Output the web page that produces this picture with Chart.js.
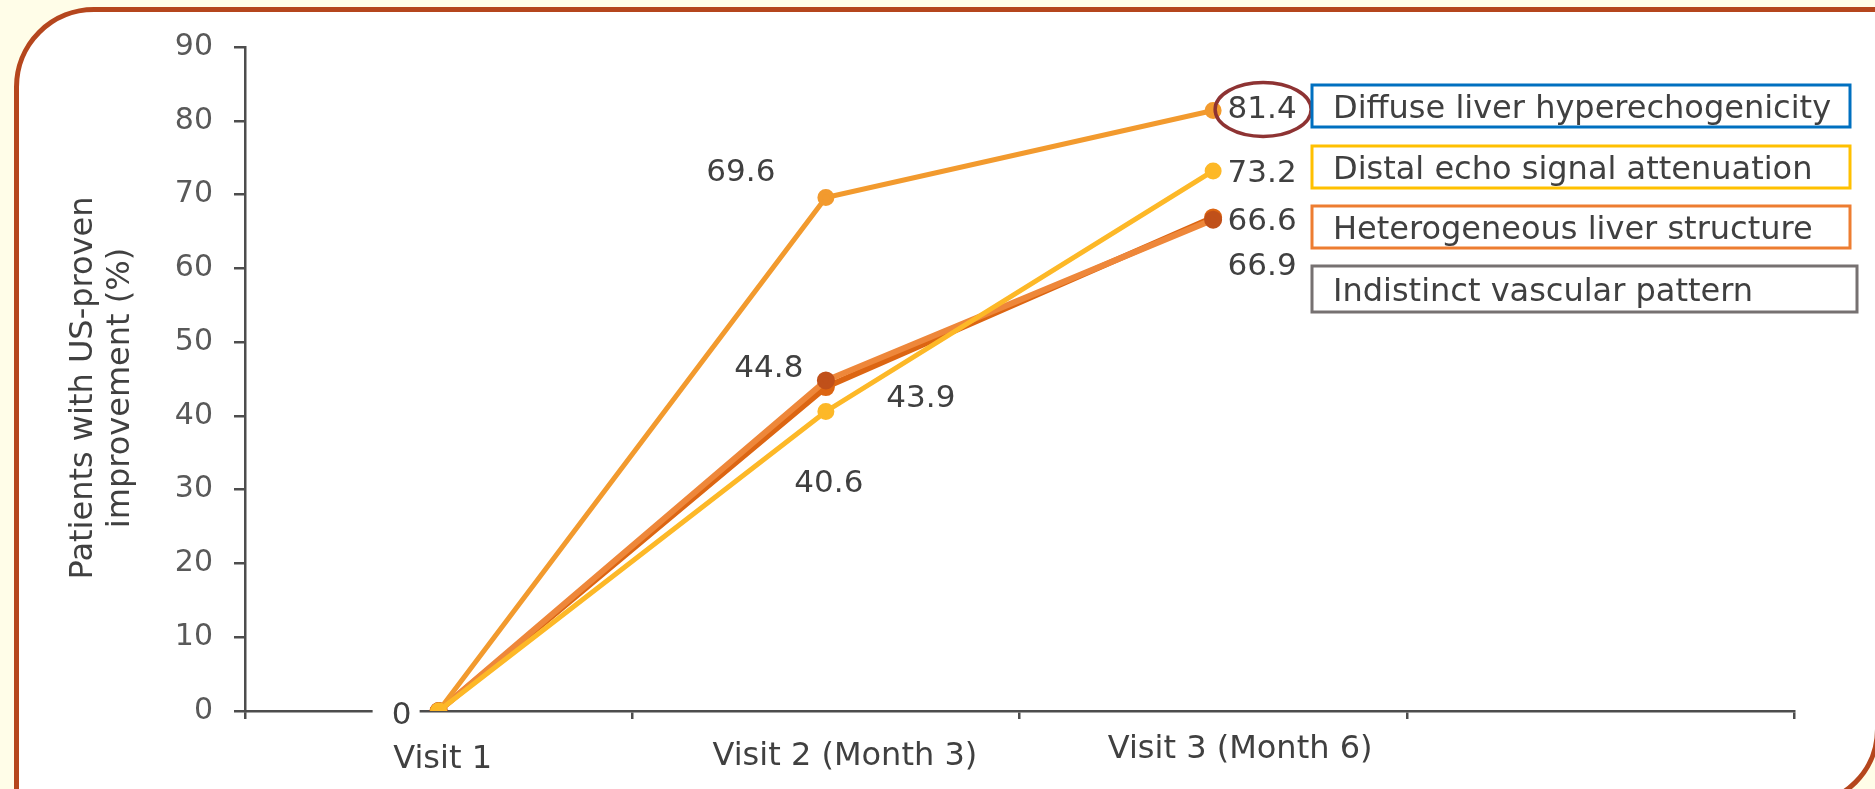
<!DOCTYPE html>
<html>
<head>
<meta charset="utf-8">
<script src="https://cdn.jsdelivr.net/npm/chart.js@4.4.1/dist/chart.umd.min.js"></script>
<style>
  html, body { margin: 0; padding: 0; background: #FFFDE8; overflow: hidden; }
  .card {
    position: absolute; left: 14px; top: 7px; width: 1866px; height: 800px;
    box-sizing: border-box; background: #fff;
    border: 5px solid #B5461D;
    border-radius: 80px 0 78px 0;
  }
  #chart { position: absolute; left: 0; top: 0; }
</style>
</head>
<body>
<div class="card"></div>
<canvas id="chart" width="1875" height="789"></canvas>
<script>
const visits = ['Visit 1', 'Visit 2 (Month 3)', 'Visit 3 (Month 6)', ''];
const seriesNames = ['Diffuse liver hyperechogenicity', 'Distal echo signal attenuation',
                     'Heterogeneous liver structure', 'Indistinct vascular pattern'];
const diffuse = [0, 69.6, 81.4];
const distal = [0, 40.6, 73.2];
const heterogeneous = [0, 44.8, 66.6];
const indistinct = [0, 43.9, 66.9];
const yTicks = [0, 10, 20, 30, 40, 50, 60, 70, 80, 90];
const yTitle = ['Patients with US-proven', 'improvement (%)'];

// where each value label sits, relative to its point (null = no label)
const labelShift = [
    [[-37, 5], [-85, -25], [49, 0]],
    [null, [3, 72], [49, 3]],
    [null, [-57, -12], [49, 2]],
    [null, [95, 12], [49, 50]]
];
// x category labels: shift from category centre, baseline below axis
const visitLabelShift = [[4, 57], [19, 54], [27, 47]];
const legendBorder = ['#0070C0', '#FFC000', '#ED7D31', '#767171'];
const legendBoxes = [
    { x: 1312, y: 85, w: 538, h: 42 },
    { x: 1312, y: 146, w: 538, h: 42 },
    { x: 1312, y: 206, w: 538, h: 42 },
    { x: 1312, y: 266, w: 545, h: 46 }
];

const FONT = '"DejaVu Sans", Verdana, sans-serif';

const overlay = {
    id: 'overlay',
    afterDatasetsDraw(chart) {
        const ctx = chart.ctx;
        const area = chart.chartArea;
        const xs = chart.scales.x;
        ctx.save();

        // y axis title, two lines, rotated
        ctx.save();
        ctx.translate(84, 388);
        ctx.rotate(-Math.PI / 2);
        ctx.font = '32px ' + FONT;
        ctx.fillStyle = '#404040';
        ctx.textAlign = 'center';
        ctx.textBaseline = 'middle';
        yTitle.forEach((line, i) => ctx.fillText(line, 0, i * 37));
        ctx.restore();

        // category labels
        ctx.font = '32px ' + FONT;
        ctx.fillStyle = '#404040';
        ctx.textAlign = 'center';
        ctx.textBaseline = 'alphabetic';
        visits.forEach((v, i) => {
            if (!v) return;
            const s = visitLabelShift[i];
            ctx.fillText(v, xs.getPixelForValue(i) + s[0], area.bottom + s[1]);
        });

        // value labels
        ctx.font = '31px ' + FONT;
        ctx.textBaseline = 'middle';
        chart.data.datasets.forEach((ds, i) => {
            const meta = chart.getDatasetMeta(i);
            meta.data.forEach((pt, j) => {
                const s = labelShift[i][j];
                if (!s) return;
                const tx = pt.x + s[0];
                const ty = pt.y + s[1];
                if (ds.data[j] === 0) {
                    ctx.fillStyle = '#fff';
                    ctx.fillRect(tx - 29, ty - 17, 47, 32);
                }
                ctx.fillStyle = '#404040';
                ctx.fillText(String(ds.data[j]), tx, ty);
            });
        });

        // highlight ring round the top value
        const top = chart.getDatasetMeta(0).data[2];
        ctx.beginPath();
        ctx.ellipse(top.x + 50, top.y - 1, 48, 27, 0, 0, Math.PI * 2);
        ctx.strokeStyle = '#8E3333';
        ctx.lineWidth = 3.5;
        ctx.stroke();

        // boxed legend
        ctx.font = '32px ' + FONT;
        ctx.textAlign = 'left';
        ctx.textBaseline = 'alphabetic';
        seriesNames.forEach((name, i) => {
            const b = legendBoxes[i];
            ctx.fillStyle = '#fff';
            ctx.fillRect(b.x, b.y, b.w, b.h);
            ctx.strokeStyle = legendBorder[i];
            ctx.lineWidth = 3;
            ctx.strokeRect(b.x, b.y, b.w, b.h);
            ctx.fillStyle = '#404040';
            ctx.fillText(name, b.x + 21, b.y + b.h / 2 + 12);
        });
        ctx.restore();
    }
};

new Chart(document.getElementById('chart'), {
    type: 'line',
    data: {
        labels: visits,
        datasets: [
            { label: seriesNames[0], data: diffuse, borderColor: '#F29A2E', backgroundColor: '#F29A2E',
              borderWidth: 5, order: 1 },
            { label: seriesNames[1], data: distal, borderColor: '#FDB827', backgroundColor: '#FDB827',
              borderWidth: 5, order: 0 },
            { label: seriesNames[2], data: heterogeneous, borderColor: '#EE873A', backgroundColor: '#C0501A',
              pointBorderColor: '#C0501A', borderWidth: 6, order: 2 },
            { label: seriesNames[3], data: indistinct, borderColor: '#DC6512', backgroundColor: '#DC6512',
              borderWidth: 6, order: 3 }
        ]
    },
    options: {
        responsive: false,
        animation: false,
        layout: { padding: { left: 0, top: 47, right: 81, bottom: 0 } },
        elements: {
            line: { tension: 0 },
            point: { radius: 6, borderWidth: 0, hoverRadius: 6 }
        },
        plugins: {
            legend: { display: false },
            tooltip: { enabled: false }
        },
        scales: {
            x: {
                type: 'category',
                offset: true,
                grid: { offset: true, drawOnChartArea: false, tickLength: 8, color: '#4D4D4D', lineWidth: 2.5 },
                border: { color: '#4D4D4D', width: 2.5 },
                ticks: { display: false },
                afterFit(scale) { scale.height = 78; }
            },
            y: {
                min: 0,
                max: 90,
                afterBuildTicks(scale) { scale.ticks = yTicks.map(v => ({ value: v })); },
                afterFit(scale) { scale.width = 245; },
                grid: { drawOnChartArea: false, tickLength: 11, color: '#4D4D4D', lineWidth: 2.5 },
                border: { color: '#4D4D4D', width: 2.5 },
                ticks: { color: '#595959', padding: 21, font: { family: FONT, size: 30 } }
            }
        }
    },
    plugins: [overlay]
});
</script>
</body>
</html>
